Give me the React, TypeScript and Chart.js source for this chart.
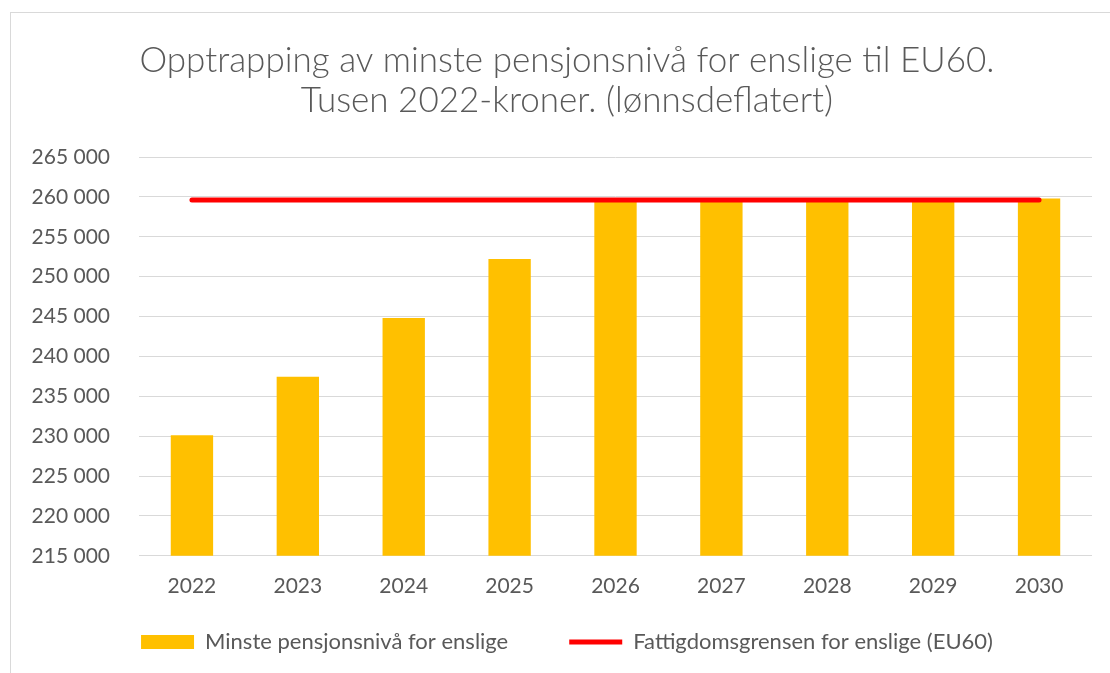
import React, { useEffect, useRef } from "react";
import { Chart, registerables } from "chart.js";

Chart.register(...registerables);

const years = ["2022", "2023", "2024", "2025", "2026", "2027", "2028", "2029", "2030"];
const minstePensjon = [230100, 237450, 244800, 252200, 259600, 259600, 259600, 259600, 259800];
const fattigdomsgrense = [259600, 259600, 259600, 259600, 259600, 259600, 259600, 259600, 259600];
const titleLines = ["Opptrapping av minste pensjonsnivå for enslige til EU60.", "Tusen 2022-kroner. (lønnsdeflatert)"];
const barLabel = "Minste pensjonsnivå for enslige";
const lineLabel = "Fattigdomsgrensen for enslige (EU60)";

const LEGEND_GAP = 61;
const LEGEND_EXTRA = LEGEND_GAP - 10;

const fmt = (v: number) => {
  const s = Math.round(v).toString();
  return s.replace(/\B(?=(\d{3})+(?!\d))/g, " ");
};

// Keeps the wide horizontal gap between legend items without the extra vertical space
const legendGapPlugin = {
  id: "legendGap",
  beforeLayout(chart: any) {
    const lg = chart.legend;
    if (lg && !lg.__patched) {
      const orig = lg.fit.bind(lg);
      lg.fit = function () {
        orig();
        this.height -= LEGEND_EXTRA;
      };
      lg.__patched = true;
    }
  },
  afterLayout(chart: any) {
    const lg = chart.legend;
    if (lg) {
      lg.top -= LEGEND_EXTRA;
    }
  },
};

export default function App() {
  const ref = useRef<HTMLCanvasElement | null>(null);
  useEffect(() => {
    if (!ref.current) return;
    const font = "Lato, 'Open Sans', sans-serif";
    const chart = new Chart(ref.current, {
      type: "bar",
      data: {
        labels: years,
        datasets: [
          {
            type: "line",
            label: lineLabel,
            data: fattigdomsgrense,
            borderColor: "#ff0000",
            backgroundColor: "#ff0000",
            borderWidth: 5,
            borderCapStyle: "round",
            pointRadius: 0,
            pointStyle: "line",
            fill: false,
          } as any,
          {
            type: "bar",
            label: barLabel,
            data: minstePensjon,
            backgroundColor: "#ffc000",
            borderWidth: 0,
            pointStyle: "rect",
            categoryPercentage: 1,
            barPercentage: 0.4,
          } as any,
        ],
      },
      plugins: [legendGapPlugin],
      options: {
        animation: false,
        responsive: false,
        maintainAspectRatio: false,
        layout: { padding: { left: 25, right: 1, top: 0, bottom: 10 } },
        plugins: {
          tooltip: { enabled: false },
          title: {
            display: true,
            text: titleLines,
            color: "#595959",
            font: { family: font, size: 35, weight: "300" as any, lineHeight: 1.143 },
            padding: { top: 41, bottom: 36 },
          },
          legend: {
            position: "bottom",
            labels: {
              color: "#595959",
              font: { family: font, size: 22 },
              usePointStyle: true,
              pointStyleWidth: 53,
              boxHeight: 14,
              padding: LEGEND_GAP,
              sort: (a: any, b: any) => b.datasetIndex - a.datasetIndex,
            },
          },
        },
        scales: {
          x: {
            grid: { display: false },
            border: { display: false },
            ticks: { color: "#595959", font: { family: font, size: 21 }, padding: 10 },
            afterFit: (s: any) => { s.height += 12; },
          },
          y: {
            min: 215000,
            max: 265000,
            grid: { color: "#d9d9d9", lineWidth: 1, drawTicks: false },
            border: { display: false },
            ticks: {
              stepSize: 5000,
              color: "#595959",
              font: { family: font, size: 21 },
              padding: 29,
              callback: (v: any) => fmt(Number(v)),
            },
            afterFit: (s: any) => { s.width = 114; },
          },
          yRight: {
            position: "right",
            min: 0,
            max: 1,
            grid: { display: false },
            border: { display: false },
            ticks: { display: false },
            afterFit: (s: any) => { s.width = 17; },
          },
        },
      },
    });
    return () => chart.destroy();
  }, []);
  return (
    <div style={{ position: "fixed", left: 0, top: 0, width: 1110, height: 673, background: "#fff", overflow: "hidden" }}>
      <div style={{ position: "absolute", left: 10, top: 12, width: 1200, height: 800, border: "1px solid #d9d9d9" }} />
      <canvas ref={ref} width={1110} height={673} style={{ position: "absolute", left: 0, top: 0 }} />
    </div>
  );
}
